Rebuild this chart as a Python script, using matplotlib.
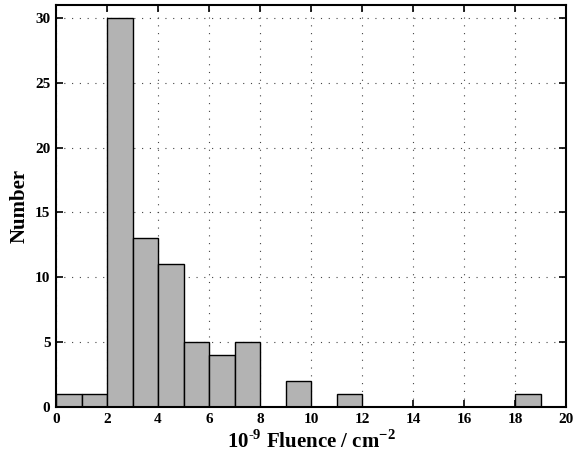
import matplotlib
matplotlib.use("Agg")
import matplotlib.pyplot as plt
import numpy as np

bin_edges = list(range(0, 21))
counts = [1, 1, 30, 13, 11, 5, 4, 5, 0, 2, 0, 1, 0, 0, 0, 0, 0, 0, 1, 0]
xticks = [0, 2, 4, 6, 8, 10, 12, 14, 16, 18, 20]
yticks = [0, 5, 10, 15, 20, 25, 30]

plt.rcParams['font.family'] = ['Liberation Serif', 'DejaVu Serif']
plt.rcParams['font.weight'] = 'bold'
plt.rcParams['mathtext.fontset'] = 'custom'
plt.rcParams['mathtext.rm'] = 'Liberation Serif:bold'
plt.rcParams['mathtext.bf'] = 'Liberation Serif:bold'

fig = plt.figure(figsize=(5.74, 4.59), dpi=100)
ax = fig.add_axes([56/574, 52/459, 510/574, 402/459])

ax.bar(bin_edges[:-1], counts, width=1, align='edge', color='#b3b3b3',
       edgecolor='black', linewidth=1.0, zorder=3)

ax.set_xlim(0, 20)
ax.set_ylim(0, 31)
ax.set_xticks(xticks)
ax.set_yticks(yticks)
ax.set_xticklabels([str(t) for t in xticks], fontsize=11, fontweight='bold')
ax.set_yticklabels([str(t) for t in yticks], fontsize=11, fontweight='bold')
ax.tick_params(direction='in', top=True, right=True, length=5, width=1.2, pad=4)
ax.grid(True, linestyle=(0, (1, 6)), color='#444444', linewidth=0.8, zorder=0)
for s in ax.spines.values():
    s.set_linewidth(1.5)
    s.set_zorder(4)

ax.set_xlabel(r'10$^{\mathbf{\text{-}9}}$ Fluence / cm$^{\mathbf{-2}}$', fontsize=15, fontweight='bold', labelpad=3)
ax.set_ylabel('Number', fontsize=15, fontweight='bold', labelpad=4)

fig.savefig('out.png', dpi=100)
